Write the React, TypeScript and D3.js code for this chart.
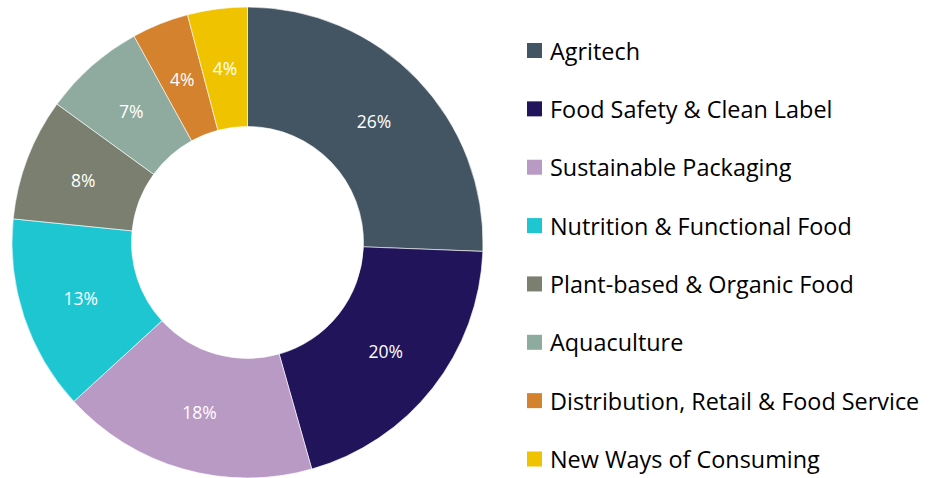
import React from "react";
import * as d3 from "d3";

const categories = [
  "Agritech",
  "Food Safety & Clean Label",
  "Sustainable Packaging",
  "Nutrition & Functional Food",
  "Plant-based & Organic Food",
  "Aquaculture",
  "Distribution, Retail & Food Service",
  "New Ways of Consuming",
];
const values = [25.6, 20.0, 17.6, 13.4, 8.4, 7.0, 3.9, 4.1];
const colors = ["#435563", "#21145a", "#b99ac4", "#1ec6d1", "#7b7f70", "#8fab9f", "#d4822e", "#f0c300"];

const W = 930;
const H = 478;
const cx = 247.5;
const cy = 242.5;
const outerR = 235.5;
const innerR = 116;
const FONT = "'Open Sans', sans-serif";

export default function App() {
  const total = d3.sum(values);
  const pie = d3.pie<number>().value((d) => d).sort(null);
  const arcs = pie(values);
  const arc = d3.arc<d3.PieArcDatum<number>>().innerRadius(innerR).outerRadius(outerR);
  const legendY = d3.scalePoint<number>().domain(d3.range(categories.length)).range([50.5, 459]);

  return (
    <svg width={W} height={H} style={{ position: "absolute", left: 0, top: 0 }}>
      <rect width={W} height={H} fill="#fff" />
      <g transform={`translate(${cx},${cy})`}>
        {arcs.map((a, i) => (
          <path key={i} d={arc(a) || ""} fill={colors[i]} stroke="#fff" strokeWidth={0.6} />
        ))}
        {arcs.map((a, i) => {
          const [x, y] = arc.centroid(a);
          return (
            <text
              key={i}
              x={x}
              y={y}
              fill="#fff"
              fontFamily={FONT}
              fontSize={17.5}
              textAnchor="middle"
              dominantBaseline="central"
            >
              {Math.round((values[i] / total) * 100)}%
            </text>
          );
        })}
      </g>
      <g>
        {categories.map((c, i) => {
          const y = legendY(i) as number;
          return (
            <g key={c}>
              <rect x={527} y={y - 7.5} width={15} height={15} fill={colors[i]} />
              <text x={550} y={y} fontFamily={FONT} fontSize={23.4} fill="#000" dominantBaseline="central">
                {c}
              </text>
            </g>
          );
        })}
      </g>
    </svg>
  );
}
